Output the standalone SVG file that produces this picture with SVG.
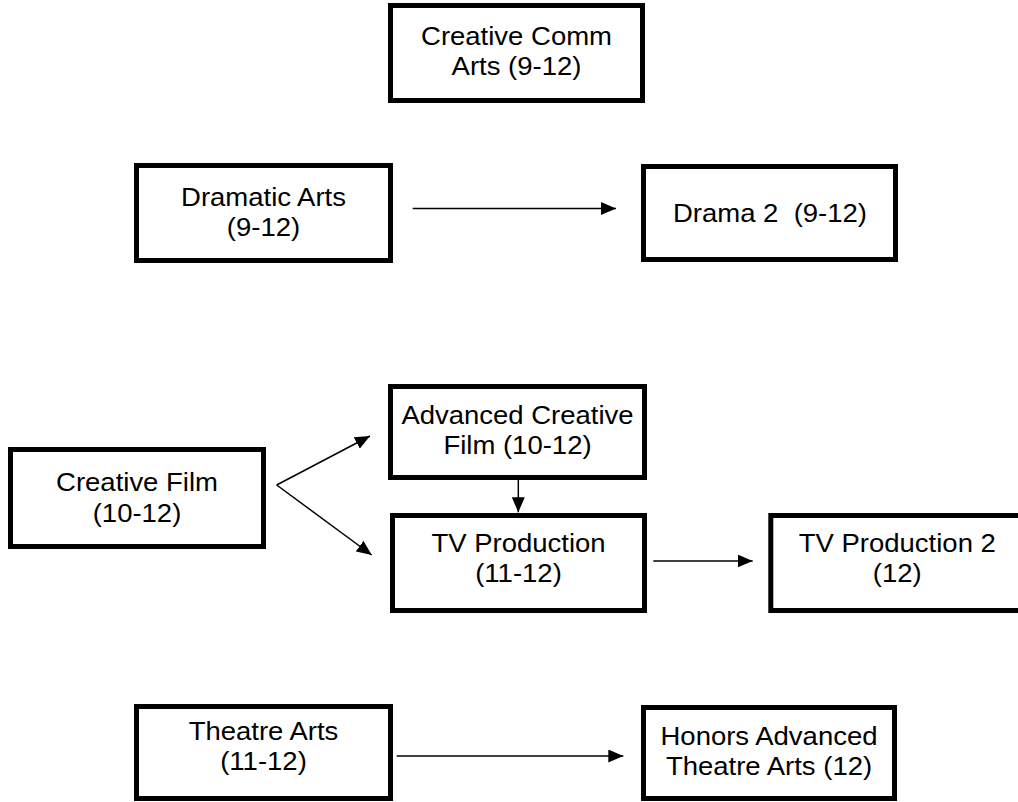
<svg xmlns="http://www.w3.org/2000/svg" width="1018" height="802" viewBox="0 0 1018 802">
<style>
.box{fill:#fff;stroke:#000;stroke-width:5}
.t{font-family:"Liberation Sans",Arial,sans-serif;font-size:25px;fill:#000;text-anchor:middle}
.c{stroke:#000;stroke-width:1.5;fill:none;marker-end:url(#ah)}
</style>
<defs>
<marker id="ah" markerUnits="userSpaceOnUse" markerWidth="16" markerHeight="14" refX="15" refY="6.5" orient="auto">
<path d="M0,0 L15,6.5 L0,13 z" fill="#000"/>
</marker>
</defs>
<rect width="1018" height="802" fill="#fff"/>
<g id="connectors">
<line class="c" x1="412.7" y1="208.5" x2="616" y2="208.5"/>
<line class="c" x1="276.7" y1="485" x2="370" y2="436"/>
<line class="c" x1="276.7" y1="485" x2="371.7" y2="555"/>
<line class="c" x1="518.3" y1="480" x2="518.3" y2="512.3"/>
<line class="c" x1="653.3" y1="561" x2="752.7" y2="561"/>
<line class="c" x1="396.7" y1="756" x2="623.3" y2="756"/>
</g>
<g id="creative-comm">
<rect class="box" x="390.5" y="5.5" width="252" height="95"/>
<text class="t" transform="translate(516.5,45) scale(1.1,1)">Creative Comm</text>
<text class="t" transform="translate(516.5,75) scale(1.1,1)">Arts (9-12)</text>
</g>
<g id="dramatic-arts">
<rect class="box" x="136.5" y="165.5" width="254" height="95"/>
<text class="t" transform="translate(263.5,206) scale(1.1,1)">Dramatic Arts</text>
<text class="t" transform="translate(263.5,236) scale(1.1,1)">(9-12)</text>
</g>
<g id="drama-2">
<rect class="box" x="643.5" y="166.5" width="252" height="93"/>
<text class="t" transform="translate(770,222) scale(1.1,1)" xml:space="preserve">Drama 2  (9-12)</text>
</g>
<g id="creative-film">
<rect class="box" x="10.5" y="449.5" width="253" height="97"/>
<text class="t" transform="translate(137,491) scale(1.1,1)">Creative Film</text>
<text class="t" transform="translate(137,522) scale(1.1,1)">(10-12)</text>
</g>
<g id="advanced-creative-film">
<rect class="box" x="390.5" y="386.5" width="254" height="91"/>
<text class="t" transform="translate(517.5,424) scale(1.1,1)">Advanced Creative</text>
<text class="t" transform="translate(517.5,454) scale(1.1,1)">Film (10-12)</text>
</g>
<g id="tv-production">
<rect class="box" x="392.5" y="515.5" width="252" height="95"/>
<text class="t" transform="translate(518.5,552) scale(1.1,1)">TV Production</text>
<text class="t" transform="translate(518.5,582) scale(1.1,1)">(11-12)</text>
</g>
<g id="tv-production-2">
<rect class="box" x="770.8" y="515.5" width="253" height="95"/>
<text class="t" transform="translate(897.3,552) scale(1.1,1)">TV Production 2</text>
<text class="t" transform="translate(897.3,582) scale(1.1,1)">(12)</text>
</g>
<g id="theatre-arts">
<rect class="box" x="136.5" y="706.5" width="254" height="92"/>
<text class="t" transform="translate(263.5,740) scale(1.1,1)">Theatre Arts</text>
<text class="t" transform="translate(263.5,770) scale(1.1,1)">(11-12)</text>
</g>
<g id="honors-advanced">
<rect class="box" x="643.5" y="707.5" width="251" height="91"/>
<text class="t" transform="translate(769,745) scale(1.1,1)">Honors Advanced</text>
<text class="t" transform="translate(769,775) scale(1.1,1)">Theatre Arts (12)</text>
</g>
</svg>
